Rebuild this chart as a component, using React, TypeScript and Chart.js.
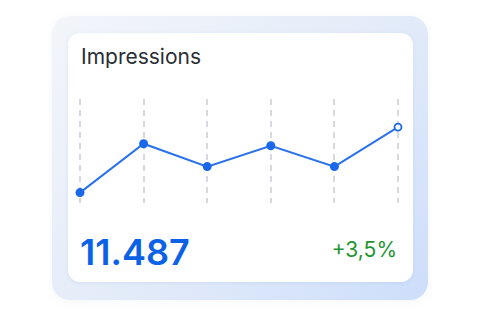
import React, { useEffect, useRef } from "react";
import { Chart, registerables } from "chart.js";

Chart.register(...registerables);

const periods = ["P1", "P2", "P3", "P4", "P5", "P6"];
const impressions = [10, 57, 35, 55, 35, 73];
const title = "Impressions";
const totalLabel = "11.487";
const changeLabel = "+3,5%";

const BLUE = "#1b68ea";

export default function App() {
  const canvasRef = useRef<HTMLCanvasElement | null>(null);

  useEffect(() => {
    if (!canvasRef.current) return;
    const last = impressions.length - 1;
    const chart = new Chart(canvasRef.current, {
      type: "line",
      data: {
        labels: periods,
        datasets: [
          {
            data: impressions,
            borderColor: "#2a72ec",
            borderWidth: 2,
            tension: 0,
            clip: false as any,
            pointRadius: impressions.map((_, i) => (i === last ? 3.5 : 4.5)),
            pointBackgroundColor: impressions.map((_, i) => (i === last ? "#ffffff" : BLUE)),
            pointBorderColor: BLUE,
            pointBorderWidth: impressions.map((_, i) => (i === last ? 1.8 : 0)),
            pointHoverRadius: 4.5,
          },
        ],
      },
      options: {
        animation: false,
        responsive: false,
        maintainAspectRatio: false,
        layout: { padding: { left: 10, right: 12, top: 9, bottom: 12 } },
        plugins: { legend: { display: false }, tooltip: { enabled: false } },
        scales: {
          x: {
            display: true,
            offset: false,
            ticks: { display: false },
            grid: {
              color: "#d6d9df",
              lineWidth: 2,
              drawTicks: false,
              tickLength: 0,
            },
            border: { display: false, dash: [6, 5] },
          } as any,
          y: { display: false, min: 0, max: 100 },
        },
      },
    });
    return () => chart.destroy();
  }, []);

  return (
    <div
      style={{
        position: "fixed",
        left: 0,
        top: 0,
        width: 480,
        height: 320,
        background: "#ffffff",
        fontFamily: "Inter, 'Noto Sans', sans-serif",
      }}
    >
      <div
        style={{
          position: "absolute",
          left: 52,
          top: 16,
          width: 376,
          height: 284,
          borderRadius: 18,
          background: "linear-gradient(135deg, #f3f5fa 0%, #e4ecf9 50%, #cddefb 100%)",
          boxShadow: "0 2px 8px rgba(120,140,180,0.08)",
        }}
      />
      <div
        style={{
          position: "absolute",
          left: 68,
          top: 33,
          width: 345,
          height: 249,
          borderRadius: 12,
          background: "#ffffff",
          boxShadow: "0 1px 4px rgba(100,130,190,0.12)",
        }}
      />
      <div
        style={{
          position: "absolute",
          left: 81,
          top: 44,
          fontSize: 21,
          color: "#2a2e35",
          lineHeight: "26px",
          whiteSpace: "nowrap",
        }}
      >
        {title}
      </div>
      <canvas
        ref={canvasRef}
        width={340}
        height={125}
        style={{ position: "absolute", left: 70, top: 90, width: 340, height: 125 }}
      />
      <div
        style={{
          position: "absolute",
          left: 80,
          top: 230,
          fontSize: 36,
          fontWeight: 600,
          color: "#0b62e6",
          lineHeight: "44px",
          whiteSpace: "nowrap",
        }}
      >
        {totalLabel}
      </div>
      <div
        style={{
          position: "absolute",
          right: 83,
          top: 237,
          fontSize: 21,
          color: "#1f9632",
          lineHeight: "26px",
          whiteSpace: "nowrap",
        }}
      >
        {changeLabel}
      </div>
    </div>
  );
}
